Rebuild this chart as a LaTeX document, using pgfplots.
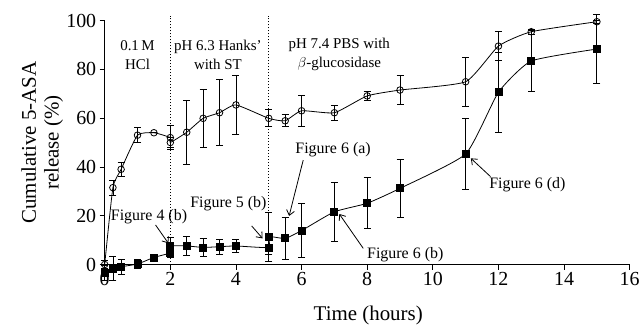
\documentclass[border=0pt]{standalone}
\usepackage{pgfplots}
\pgfplotsset{compat=1.18}
\usepackage{pgfplotstable}
\usepackage{fontspec}
\setmainfont{Liberation Serif}
\usetikzlibrary{arrows.meta}

\pgfplotstableread{
x y e
0 0 1.5
0.25 31.5 3
0.5 39 3
1 53 3
1.5 54 0
2 52 5
2 50 2
2.5 54.2 13
3 59.9 12
3.5 62.2 13.5
4 65.4 12
5 59.9 3.5
5.5 58.9 2.5
6 63 6.5
7 62.2 3
8 69.1 2
9 71.5 6
11 74.9 10
12 89.5 6
13 95.4 1
15 99.5 0.5
}\dataA

\pgfplotstableread{
x y e
0 -3.5 3
0.25 -1.6 5
0.5 -0.9 3
1 0.2 2
1.5 2.9 0
2 4.8 2
2 7.6 3.5
2.5 7.6 4
3 7.0 3.5
3.5 7.3 3
4 7.6 2.5
5 7.0 3
5 11.4 10
5.5 10.7 8.5
6 13.9 11
7 21.6 12
8 25.1 10.5
9 31.2 12
11 45.3 14.5
12 70.6 16.5
13 83.4 12.6
15 88.3 14
}\dataB

\begin{document}
\begin{tikzpicture}
\useasboundingbox (-104.7bp,-61.5bp) rectangle (537.3bp,264.5bp);
\begin{axis}[
  scale only axis,
  width=525bp, height=244bp,
  xmin=0, xmax=16, ymin=0, ymax=100,
  axis lines=left,
  axis line style={-, line width=0.9pt},
  xtick={0,2,...,16}, ytick={0,20,...,100},
  tick align=outside,
  tick style={black, line width=0.8pt},
  major tick length=5bp,
  /pgf/number format/assume math mode=true,
  tick label style={font=\fontsize{20}{22}\selectfont},
  xticklabel style={yshift=1bp},
  label style={font=\fontsize{21}{23}\selectfont},
  xlabel={Time (hours)},
  ylabel={Cumulative 5-ASA\\release (\%)},
  xlabel style={at={(axis description cs:0.502,-0.207)}, anchor=center},
  ylabel style={at={(axis description cs:-0.119,0.5)}, rotate=0, anchor=center, align=center},
  clip=false,
  error bars/error bar style={line width=0.8pt},
  error bars/error mark options={rotate=90, mark size=3.5bp, line width=0.8pt},
]
\addplot[black, line width=0.8pt, smooth, tension=0.3, mark=o, mark size=3.3bp,
  mark options={fill=white, line width=0.8pt},
  error bars/.cd, y dir=both, y explicit]
  table[x=x, y=y, y error=e] {\dataA};
\addplot[black, line width=0.8pt, smooth, tension=0.3, mark=square*, mark size=3.5bp,
  error bars/.cd, y dir=both, y explicit]
  table[x=x, y=y, y error=e] {\dataB};

\draw[dotted, line width=1pt] (axis cs:2,0) -- (axis cs:2,102);
\draw[dotted, line width=1pt] (axis cs:5,0) -- (axis cs:5,102);

\node[align=center, font=\fontsize{15}{19}\selectfont] at (axis cs:1,86) {0.1\,M\\HCl};
\node[align=center, font=\fontsize{15}{19}\selectfont] at (axis cs:3.45,86) {pH 6.3 Hanks'\\with ST};
\node[align=center, font=\fontsize{15}{19}\selectfont] at (axis cs:7.15,86) {pH 7.4 PBS with\\$\beta$-glucosidase};

\node[font=\fontsize{16}{18}\selectfont] at (axis cs:1.35,19.6) {Figure 4 (b)};
\node[font=\fontsize{16}{18}\selectfont] at (axis cs:3.77,25.1) {Figure 5 (b)};
\node[font=\fontsize{16}{18}\selectfont] at (axis cs:6.96,46.9) {Figure 6 (a)};
\node[font=\fontsize{16}{18}\selectfont] at (axis cs:9.16,3.9) {Figure 6 (b)};
\node[font=\fontsize{16}{18}\selectfont] at (axis cs:12.88,32.6) {Figure 6 (d)};

\tikzset{ann/.style={line width=0.8pt, -{Straight Barb[length=5bp, width=8bp]}}}
\draw[ann] (axis cs:1.55,16.2) -- (axis cs:1.94,8.7);
\draw[ann] (axis cs:4.48,15.8) -- (axis cs:4.81,10.7);
\draw[ann] (axis cs:6.05,42.8) -- (axis cs:5.62,19.9);
\draw[ann] (axis cs:7.88,6.6) -- (axis cs:7.15,20.7);
\draw[ann] (axis cs:11.76,36) -- (axis cs:11.16,43.5);
\end{axis}
\end{tikzpicture}
\end{document}
